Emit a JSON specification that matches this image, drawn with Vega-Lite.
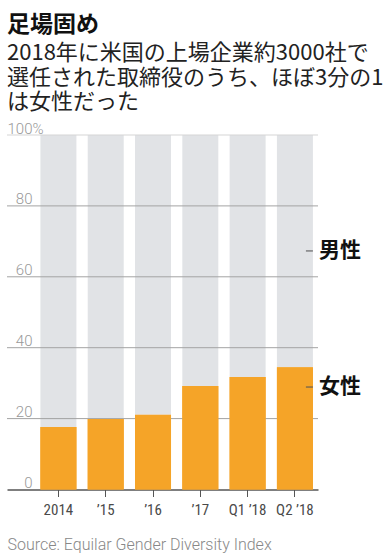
{
  "$schema": "https://vega.github.io/schema/vega-lite/v6.json",
  "width": 311,
  "height": 354.5,
  "autosize": {"type": "none"},
  "padding": {"left": 7, "top": 135, "right": 69, "bottom": 68.5},
  "background": "white",
  "title": {
    "text": "足場固め",
    "subtitle": ["2018年に米国の上場企業約3000社で", "選任された取締役のうち、ほぼ3分の1", "は女性だった"],
    "anchor": "start",
    "frame": "group",
    "orient": "top",
    "font": "Noto Sans CJK JP",
    "fontSize": 23,
    "fontWeight": "bold",
    "color": "#111111",
    "subtitleFont": "Noto Sans CJK JP",
    "subtitleFontSize": 22,
    "subtitleColor": "#222222",
    "subtitleLineHeight": 24.5,
    "subtitlePadding": 6,
    "offset": 8
  },
  "config": {"view": {"stroke": null}},
  "datasets": {
    "shares": [
      {"period": "2014", "gender": "女性", "value": 17.6},
      {"period": "2014", "gender": "男性", "value": 82.4},
      {"period": "’15", "gender": "女性", "value": 19.9},
      {"period": "’15", "gender": "男性", "value": 80.1},
      {"period": "’16", "gender": "女性", "value": 21.1},
      {"period": "’16", "gender": "男性", "value": 78.9},
      {"period": "’17", "gender": "女性", "value": 29.2},
      {"period": "’17", "gender": "男性", "value": 70.8},
      {"period": "Q1 ’18", "gender": "女性", "value": 31.7},
      {"period": "Q1 ’18", "gender": "男性", "value": 68.3},
      {"period": "Q2 ’18", "gender": "女性", "value": 34.5},
      {"period": "Q2 ’18", "gender": "男性", "value": 65.5}
    ],
    "grid": [{"v": 20}, {"v": 40}, {"v": 60}, {"v": 80}, {"v": 100}],
    "labels": [{"label": "男性", "pos": 67.3}, {"label": "女性", "pos": 28.9}]
  },
  "layer": [
    {
      "data": {"name": "shares"},
      "mark": {"type": "bar"},
      "encoding": {
        "x": {
          "field": "period",
          "type": "nominal",
          "sort": null,
          "scale": {"paddingInner": 0.239, "paddingOuter": 0.407, "align": 0.868},
          "axis": {
            "title": "Source: Equilar Gender Diversity Index",
            "titleAnchor": "start",
            "titleAlign": "left",
            "titleX": 0,
            "titleY": 60,
            "titleBaseline": "alphabetic",
            "titleFont": "Roboto",
            "titleFontSize": 16,
            "titleFontWeight": 300,
            "titleColor": "#888888",
            "labelAngle": 0,
            "labelFont": "Liberation Sans Narrow, Roboto Condensed, Roboto, sans-serif",
            "labelFontSize": 15,
            "labelColor": "#4a4a4a",
            "labelBaseline": "alphabetic",
            "labelPadding": 17.5,
            "tickColor": "#555555",
            "tickSize": 7,
            "tickWidth": 1,
            "domainColor": "#555555",
            "domainWidth": 1.5,
            "grid": false
          }
        },
        "y": {
          "field": "value",
          "type": "quantitative",
          "stack": "zero",
          "scale": {"domain": [0, 100], "nice": false},
          "axis": {
            "title": null,
            "grid": false,
            "domain": false,
            "ticks": false,
            "tickSize": 0,
            "values": [0, 20, 40, 60, 80, 100],
            "labelExpr": "datum.value == 100 ? '100%' : datum.label",
            "labelFont": "Roboto",
            "labelFontSize": 15,
            "labelFontWeight": 300,
            "labelColor": "#999999",
            "labelBaseline": "alphabetic",
            "labelOffset": -2,
            "labelAlign": {"condition": {"test": "datum.value == 100", "value": "left"}, "value": "right"},
            "labelPadding": {"condition": {"test": "datum.value == 100", "value": 0}, "value": -25}
          }
        },
        "order": {"field": "gender", "sort": "ascending"},
        "color": {
          "field": "gender",
          "type": "nominal",
          "scale": {"domain": ["女性", "男性"], "range": ["#f5a428", "#e1e3e6"]},
          "legend": null
        }
      }
    },
    {
      "data": {"name": "grid"},
      "mark": {"type": "rule", "strokeWidth": 1},
      "encoding": {
        "y": {"field": "v", "type": "quantitative"},
        "color": {"condition": {"test": "datum.v == 100", "value": "#d5d5d5"}, "value": "#a3a3a3"}
      }
    },
    {
      "data": {"name": "shares"},
      "transform": [{"filter": "datum.gender === '女性'"}],
      "mark": {"type": "bar", "color": "#f5a428"},
      "encoding": {
        "x": {"field": "period", "type": "nominal", "sort": null},
        "y": {"field": "value", "type": "quantitative"}
      }
    },
    {
      "data": {"name": "labels"},
      "mark": {"type": "tick", "orient": "horizontal", "size": 7, "thickness": 1.5, "xOffset": 14.5, "color": "#555555"},
      "encoding": {
        "x": {"datum": "Q2 ’18"},
        "y": {"field": "pos", "type": "quantitative"}
      }
    },
    {
      "data": {"name": "labels"},
      "mark": {"type": "text", "align": "left", "baseline": "middle", "dx": 24, "font": "Noto Sans CJK JP", "fontSize": 21, "fontWeight": "bold", "color": "#111111"},
      "encoding": {
        "x": {"datum": "Q2 ’18"},
        "y": {"field": "pos", "type": "quantitative"},
        "text": {"field": "label"}
      }
    }
  ]
}
